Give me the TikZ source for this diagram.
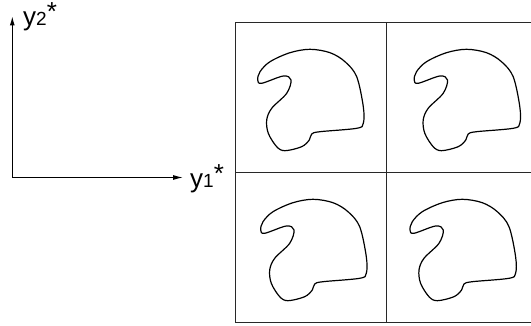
\documentclass[tikz,border=0pt]{standalone}
\usepackage{fontspec}
\setmainfont{Liberation Sans}
\usetikzlibrary{arrows.meta, math}
\definecolor{myframe}{RGB}{40,40,40}

\newcommand{\bigy}{\fontsize{26}{26}\selectfont}
\newcommand{\smalldig}{\fontsize{19}{19}\selectfont}

\begin{document}
\begin{tikzpicture}[x=1pt, y=-1pt]
\tikzmath{
\S=150.5;
}
\clip (0,0) rectangle (531,326);

% axes
\coordinate (o) at (12.3,177.5);
\coordinate (ytop) at (12.3,16.5);
\coordinate (xend) at (183,177.5);
\draw[line width=1pt, -{Latex[length=9pt,width=5pt]}] (o) -- (ytop);
\draw[line width=1pt, -{Latex[length=10pt,width=5pt]}] (o) -- (xend);
\node[anchor=base west, inner sep=0] (ytwo) at (23,26) {\bigy y\smalldig 2\raisebox{5pt}{\bigy *}};
\node[anchor=base west, inner sep=0] (yone) at (190,188) {\bigy y\smalldig 1\raisebox{5pt}{\bigy *}};

% squares
\begin{scope}
\foreach \x/\y in {235.5/22.5, 386/22.5, 235.5/172.5, 386/172.5}{
\draw[color=myframe, line width=1pt] (\x,\y) rectangle +(\S,\S);
}
\end{scope}

% curves
\foreach \cx/\cy in {311/97.7, 467.5/97.7, 314/247.7, 463.3/247.7}{
\begin{scope}[shift={(\cx,\cy)}]
\draw[line width=1.2pt] plot[smooth cycle, tension=0.55] coordinates {
(-53.3,-17.7) (-49.3,-14.4) (-27.7,-21.7) (-20,-17.7) (-24.3,-4.4)
(-39.3,10.6) (-44.3,22.3) (-42.7,35.6) (-34.3,49) (-26,53)
(-9.3,49) (-1.7,42.3) (0.7,36.3) (9,34) (45.7,30.6)
(52.3,25.6) (52.3,9) (45.7,-21) (34,-36) (19,-45)
(-1,-48.4) (-21,-45) (-41,-36) (-51,-26)};
\end{scope}
}
\end{tikzpicture}
\end{document}
